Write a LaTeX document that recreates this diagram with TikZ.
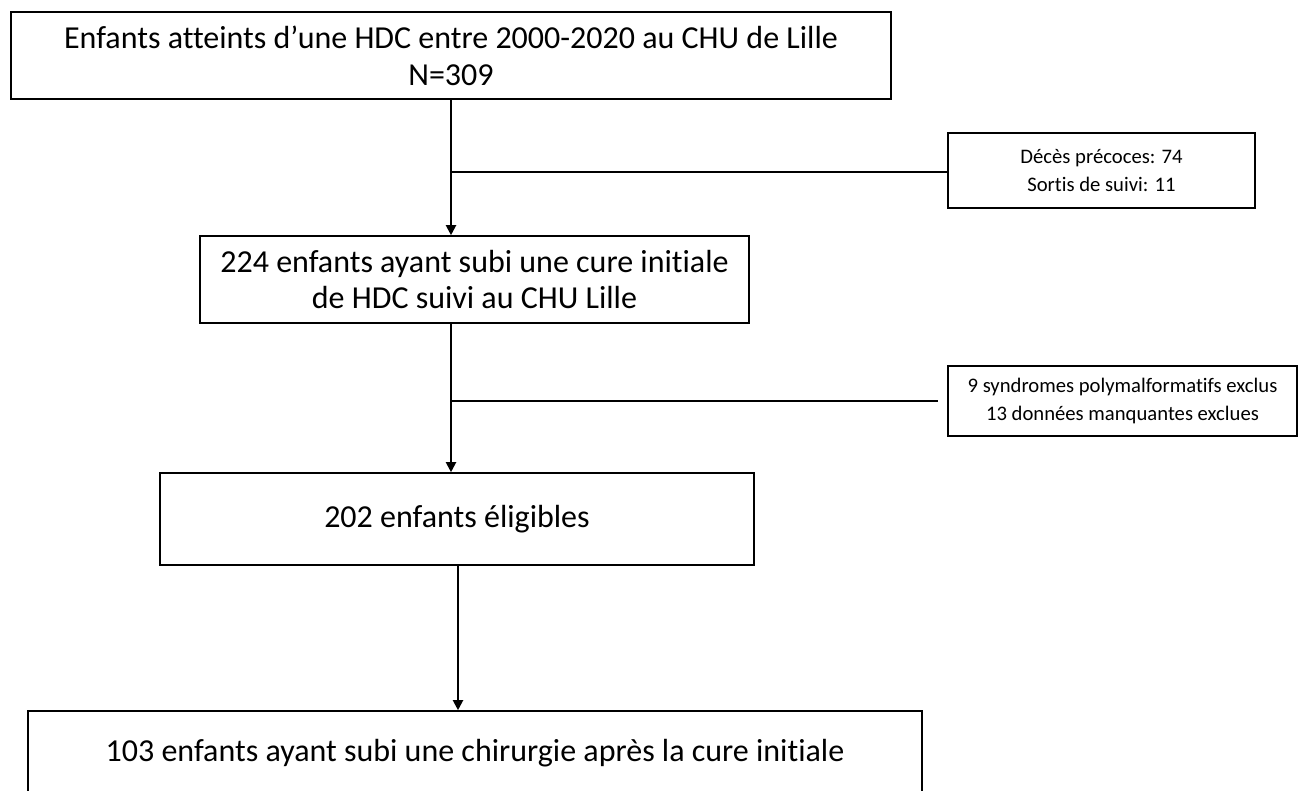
\documentclass[tikz,border=0pt]{standalone}
\usepackage{fontspec}
\setmainfont{Carlito}[Ligatures=NoCommon]
\usetikzlibrary{arrows.meta}

\tikzset{
  bigbox/.style={draw, line width=1.2pt, inner sep=0pt, align=center,
    font=\fontsize{24}{27.5}\selectfont},
  smallbox/.style={draw, line width=1.2pt, inner sep=0pt, align=center,
    font=\fontsize{15.5}{20.5}\selectfont},
  flow/.style={line width=1.5pt, -{Triangle[length=7.5pt,width=7.5pt]}},
  branch/.style={line width=1.5pt}
}

\begin{document}
\begin{tikzpicture}[x=0.75pt,y=0.75pt,yscale=-1,xscale=1]
\clip (0,0) rectangle (1304,791);

% boxes of the main column (sizes in pt = 0.75 x pixels)
\node[bigbox, minimum width=660pt, minimum height=65.25pt] (start) at (451,55.5)
  {Enfants atteints d’une HDC entre 2000-2020 au CHU de Lille\\N=309};
\node[bigbox, minimum width=411.75pt, minimum height=65.25pt] (cure) at (474.5,279.5)
  {224 enfants ayant subi une cure initiale\\de HDC suivi au CHU Lille};
\node[bigbox, minimum width=445.5pt, minimum height=69pt] (eligible) at (457,519)
  {202 enfants éligibles};
\node[bigbox, minimum width=670.5pt, minimum height=63pt] (surgery) at (475,753)
  {103 enfants ayant subi une chirurgie après la cure initiale};

% exclusion boxes
\node[smallbox, minimum width=230.25pt, minimum height=56.25pt] (deaths) at (1101.5,170.5)
  {Décès précoces: 74\\Sortis de suivi: 11};
\node[smallbox, minimum width=261.75pt, minimum height=52.5pt] (excluded) at (1122.5,401)
  {9 syndromes polymalformatifs exclus\\13 données manquantes exclues};

% junctions
\coordinate (j1) at (451,172);
\coordinate (j2) at (451,401);
\coordinate (j3) at (458,640);

% connectors
\draw[flow] (start.south -| j1) -- (cure.north -| j1);
\draw[branch] (j1) -- (j1 -| deaths.west);
\draw[flow] (cure.south -| j2) -- (eligible.north -| j2);
\draw[branch, shorten >=7pt] (j2) -- (j2 -| excluded.west);
\draw[flow] (eligible.south -| j3) -- (surgery.north -| j3);

\end{tikzpicture}
\end{document}
